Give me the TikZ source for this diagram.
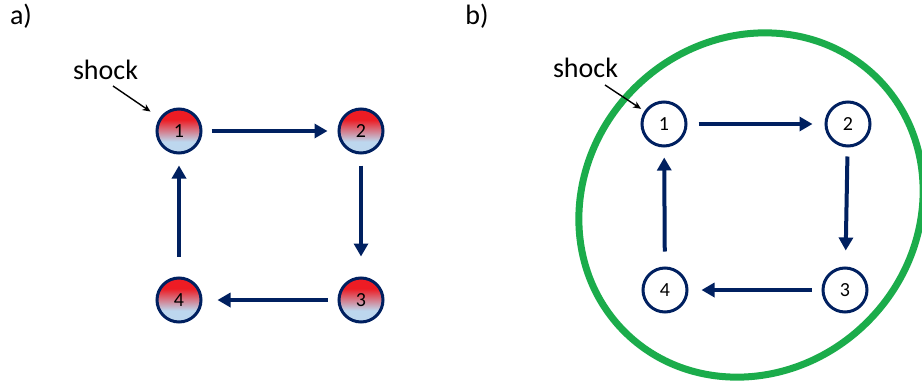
\documentclass[tikz,border=0pt]{standalone}
\usepackage{fontspec}
\setmainfont{Carlito}
\usetikzlibrary{arrows.meta}
\definecolor{navy}{RGB}{0,32,96}
\definecolor{ringgreen}{RGB}{27,172,75}
\definecolor{nodered}{RGB}{237,28,36}
\definecolor{nodeblue}{RGB}{189,215,238}
\pgfdeclareverticalshading{hotshade}{100bp}{color(0bp)=(nodeblue); color(38bp)=(nodeblue); color(63bp)=(nodered); color(100bp)=(nodered)}
\tikzset{
  x=1pt, y=-1pt,
  basenode/.style={circle, draw=navy, line width=3pt, minimum size=44pt, inner sep=0pt, font=\fontsize{20}{21}\selectfont},
  hotnode/.style={basenode, shading=hotshade},
  plainnode/.style={basenode, fill=white},
  flow/.style={draw=navy, line width=4pt, -{Triangle[length=13pt,width=14pt]}},
  shockarrow/.style={draw=black, line width=1.4pt, -{Stealth[length=8pt,width=7pt]}},
  lbl/.style={font=\fontsize{28}{30}\selectfont, inner sep=0pt},
  ring/.style={draw=ringgreen, line width=7pt}
}
\begin{document}
\begin{tikzpicture}
\useasboundingbox (0,0) rectangle (922,383);
% panel labels
\node[lbl] (la) at (21,16) {a)};
\node[lbl] (lb) at (477,16) {b)};
% panel a
\node[hotnode] (a1) at (179,131) {1};
\node[hotnode] (a2) at (361,131) {2};
\node[hotnode] (a3) at (361,300) {3};
\node[hotnode] (a4) at (179,300) {4};
\draw[flow, shorten <=9pt, shorten >=10pt] (a1) -- (a2);
\draw[flow, shorten <=11pt, shorten >=20pt] (a2) -- (a3);
\draw[flow, shorten <=10pt, shorten >=15pt] (a3) -- (a4);
\draw[flow, shorten <=20pt, shorten >=11pt] (a4) -- (a1);
\node[lbl, anchor=base] (sha) at (105.5,79) {shock};
\coordinate (sa) at (113,86);
\draw[shockarrow, shorten >=11pt] (sa) -- (a1);
% panel b
\begin{scope}[shift={(751,205)}, rotate=45]
  \draw[ring] (0,0) ellipse [x radius=179pt, y radius=165pt];
\end{scope}
\node[plainnode] (b1) at (664,124) {1};
\node[plainnode] (b2) at (848,124) {2};
\node[plainnode] (b3) at (845,290) {3};
\node[plainnode] (b4) at (665,290) {4};
\draw[flow, shorten <=11pt, shorten >=12pt] (b1) -- (b2);
\draw[flow, shorten <=9pt, shorten >=16pt] (b2) -- (b3);
\draw[flow, shorten <=10pt, shorten >=13pt] (b3) -- (b4);
\draw[flow, shorten <=15pt, shorten >=10pt] (b4) -- (b1);
\node[lbl, anchor=base] (shb) at (585.5,77) {shock};
\coordinate (sb) at (605,85);
\draw[shockarrow, shorten >=4pt] (sb) -- (b1);
\end{tikzpicture}
\end{document}
